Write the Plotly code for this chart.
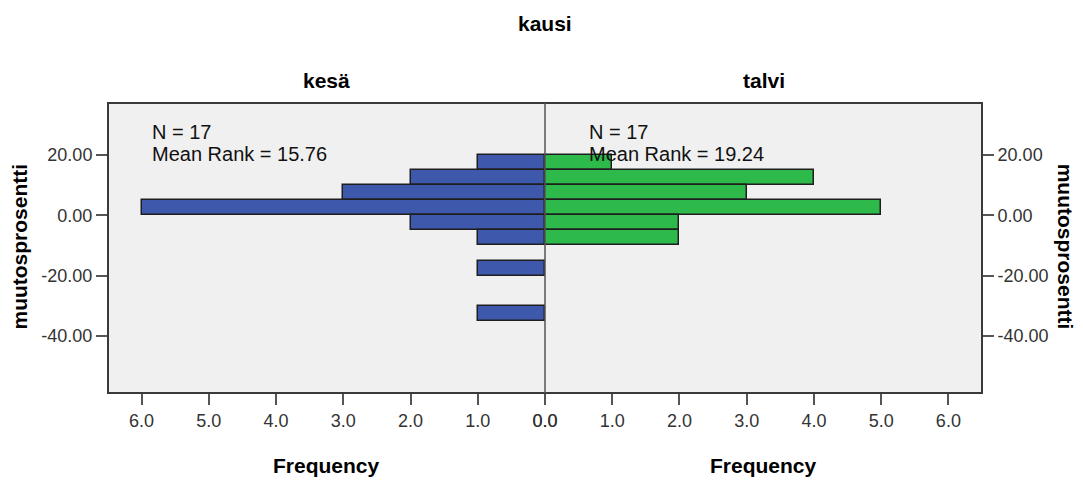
import plotly.graph_objects as go

# ---- data ----
bin_centers = [17.5, 12.5, 7.5, 2.5, -2.5, -7.5, -17.5, -32.5]
bin_width = 5
kesa_counts = [1, 2, 3, 6, 2, 1, 1, 1]
talvi_counts = [1, 4, 3, 5, 2, 2, 0, 0]
groups = ["kesä", "talvi"]
n_lines = ["N = 17", "N = 17"]
rank_lines = ["Mean Rank = 15.76", "Mean Rank = 19.24"]
x_ticks = [0, 1, 2, 3, 4, 5, 6]
y_tickvals = [20, 0, -20, -40]
y_ticktext = ["20.00", "0.00", "-20.00", "-40.00"]
panel_title = "kausi"
x_title = "Frequency"
y_title = "muutosprosentti"

FONT = "Liberation Sans, Arial, sans-serif"
BLUE = "rgb(62,88,172)"
GREEN = "rgb(46,185,75)"
EDGE = "#1e1e1e"

fig = go.Figure()
fig.add_trace(go.Bar(y=bin_centers, x=kesa_counts, orientation="h", width=bin_width,
                     marker=dict(color=BLUE, line=dict(color=EDGE, width=1.5)),
                     xaxis="x", yaxis="y", showlegend=False))
fig.add_trace(go.Bar(y=bin_centers, x=talvi_counts, orientation="h", width=bin_width,
                     marker=dict(color=GREEN, line=dict(color=EDGE, width=1.5)),
                     xaxis="x2", yaxis="y2", showlegend=False))

yr = [-58.8, 37.1]
tickfont = dict(family=FONT, size=18, color="#333")
xcommon = dict(tickvals=x_ticks, tickformat=".1f", ticks="outside", ticklen=11,
               tickcolor="#555", tickwidth=2, showgrid=False, zeroline=False,
               showline=False, tickfont=tickfont, fixedrange=True)
ycommon = dict(range=yr, tickvals=y_tickvals, ticktext=y_ticktext, ticks="outside",
               ticklen=11, tickcolor="#555", tickwidth=2, showgrid=False,
               zeroline=False, showline=False, tickfont=tickfont)

fig.update_layout(
    width=1083, height=483,
    margin=dict(l=108, r=101, t=103, b=90),
    paper_bgcolor="white", plot_bgcolor="#f0f0f0",
    bargap=0,
    xaxis=dict(domain=[0, 0.5], range=[6.5, 0], anchor="y", **xcommon),
    xaxis2=dict(domain=[0.5, 1], range=[0, 6.5], anchor="y2", **xcommon),
    yaxis=dict(domain=[0, 1], anchor="x", side="left", **ycommon),
    yaxis2=dict(domain=[0, 1], anchor="x2", side="right", **ycommon),
    font=dict(family=FONT),
)

# frame and divider
fig.add_shape(type="rect", xref="paper", yref="paper", x0=0, x1=1, y0=0, y1=1,
              line=dict(color="#3a3a3a", width=2), layer="above")
fig.add_shape(type="line", xref="paper", yref="paper", x0=0.5, x1=0.5, y0=0, y1=1,
              line=dict(color="#555", width=1.5), layer="above")

tfont = dict(family=FONT, size=21, color="black")
ann = []
ann.append(dict(text="<b>%s</b>" % panel_title, x=0.5, y=1.274, xref="paper", yref="paper",
                showarrow=False, font=tfont, xanchor="center", yanchor="middle"))
for i, g in enumerate(groups):
    cx = 0.25 + 0.5 * i
    ann.append(dict(text="<b>%s</b>" % g, x=cx, y=1.078, xref="paper", yref="paper",
                    showarrow=False, font=tfont, xanchor="center", yanchor="middle"))
    ann.append(dict(text="<b>%s</b>" % x_title, x=cx, y=-0.25, xref="paper", yref="paper",
                    showarrow=False, font=tfont, xanchor="center", yanchor="middle"))
    lx = 0.048 + 0.5 * i
    sfont = dict(family=FONT, size=20, color="#111")
    ann.append(dict(text=n_lines[i], x=lx, y=0.90, xref="paper", yref="paper",
                    showarrow=False, font=sfont, xanchor="left", yanchor="middle"))
    ann.append(dict(text=rank_lines[i], x=lx, y=0.824, xref="paper", yref="paper",
                    showarrow=False, font=sfont, xanchor="left", yanchor="middle"))
ann.append(dict(text="<b>%s</b>" % y_title, x=-0.1007, y=0.505, xref="paper", yref="paper",
                showarrow=False, font=tfont, textangle=-90, xanchor="center", yanchor="middle"))
ann.append(dict(text="<b>%s</b>" % y_title, x=1.096, y=0.505, xref="paper", yref="paper",
                showarrow=False, font=tfont, textangle=90, xanchor="center", yanchor="middle"))
fig.update_layout(annotations=ann)

fig.write_html("out.html", config={"displayModeBar": False})

# remove the browser's default page margin so the figure sits at the top-left corner
with open("out.html", "r", encoding="utf-8") as f:
    html = f.read()
html = html.replace("<head>", "<head><style>html,body{margin:0;padding:0;overflow:hidden;}</style>", 1)
with open("out.html", "w", encoding="utf-8") as f:
    f.write(html)
